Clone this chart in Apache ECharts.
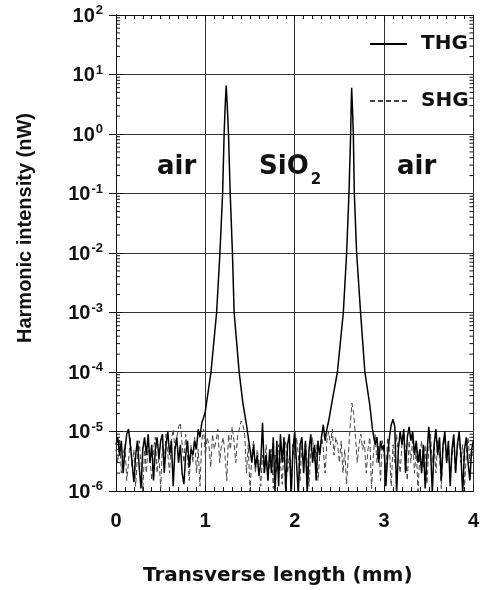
<!DOCTYPE html>
<html>
<head>
<meta charset="utf-8">
<script src="https://cdn.jsdelivr.net/npm/echarts@6/dist/echarts.min.js"></script>
<style>html,body{margin:0;padding:0;background:#fff;}#c{width:482px;height:590px;}</style>
</head>
<body>
<div id="c"></div>
<script>
// X tick labels (mm) and Y decades (nW)
const xTicks = [0, 1, 2, 3, 4];
const yDecades = [1e-6, 1e-5, 1e-4, 1e-3, 1e-2, 1e-1, 1, 10, 100];

// THG intensity (nW) vs transverse position (mm)
const thgData = [
  [0.00,6e-6],[0.02,8e-6],[0.04,4e-6],[0.06,7e-6],[0.08,2e-6],[0.10,5e-6],[0.12,9e-6],[0.14,1.1e-5],[0.16,6e-6],[0.18,3e-6],
  [0.20,1.4e-6],[0.22,4e-6],[0.24,7e-6],[0.26,2.5e-6],[0.28,1.1e-6],[0.30,5e-6],[0.32,8e-6],[0.34,4e-6],[0.36,9e-6],[0.38,3e-6],
  [0.40,6e-6],[0.42,1.5e-6],[0.44,5e-6],[0.46,8e-6],[0.48,3.5e-6],[0.50,7e-6],[0.52,9e-6],[0.54,2e-6],[0.56,6e-6],[0.58,1e-5],
  [0.60,4e-6],[0.62,7e-6],[0.64,1.2e-6],[0.66,5e-6],[0.68,8e-6],[0.70,3e-6],[0.72,6e-6],[0.74,2e-6],[0.76,1.3e-6],[0.78,4e-6],
  [0.80,7e-6],[0.82,2.5e-6],[0.84,5e-6],[0.86,4e-6],[0.88,7e-6],[0.90,5e-6],[0.92,1.1e-5],[0.94,8e-6],[0.96,1.4e-5],[0.98,1.7e-5],
  [1.00,2.2e-5],[1.063,1e-4],[1.126,1e-3],[1.163,1e-2],[1.193,0.1],[1.21,1],[1.222,3],[1.233,6.5],[1.245,3],[1.259,1],
  [1.278,0.1],[1.303,0.01],[1.322,1e-3],[1.378,1e-4],[1.42,3e-5],[1.46,1.3e-5],[1.48,8e-6],
  [1.50,5e-6],[1.52,3e-6],[1.54,6e-6],[1.56,2.5e-6],[1.58,4e-6],[1.60,1.8e-6],[1.62,3e-6],[1.64,1.4e-5],[1.66,2e-6],[1.68,4e-6],
  [1.70,1.5e-6],[1.72,5e-6],[1.74,2e-6],[1.76,8e-6],[1.78,0.9e-6],[1.80,7e-6],[1.82,1.2e-6],[1.84,9e-6],[1.86,3e-6],[1.88,8e-6],
  [1.90,0.9e-6],[1.92,6e-6],[1.94,9e-6],[1.96,0.8e-6],[1.98,5e-6],[2.00,1e-5],[2.02,3e-6],[2.04,0.9e-6],[2.06,6e-6],[2.08,8e-6],
  [2.10,2e-6],[2.12,7e-6],[2.14,0.9e-6],[2.16,5e-6],[2.18,9e-6],[2.20,3e-6],[2.22,6e-6],[2.24,1.5e-6],[2.26,7e-6],[2.28,4e-6],
  [2.30,8e-6],[2.32,1.3e-5],[2.34,7e-6],[2.36,1.1e-5],[2.38,1.5e-5],[2.415,3e-5],[2.478,1e-4],[2.544,1e-3],[2.581,1e-2],[2.607,0.1],
  [2.626,1],[2.632,3],[2.637,6],[2.645,3],[2.656,1],[2.667,0.1],[2.693,0.01],[2.737,1e-3],[2.785,1e-4],[2.84,2.8e-5],[2.87,1.1e-5],
  [2.90,6e-6],[2.92,8e-6],[2.94,3e-6],[2.96,7e-6],[2.98,5e-6],[3.00,6e-6],[3.02,1.2e-6],[3.04,4e-6],[3.06,8e-6],[3.08,1.3e-5],
  [3.10,1.6e-5],[3.12,1.2e-5],[3.14,0.9e-6],[3.16,5e-6],[3.18,1e-5],[3.20,6e-6],[3.22,1.1e-5],[3.24,2e-6],[3.26,8e-6],[3.28,1.2e-5],
  [3.30,7e-6],[3.32,1e-5],[3.34,4e-6],[3.36,7e-6],[3.38,3e-6],[3.40,5e-6],[3.42,2e-6],[3.44,6e-6],[3.46,1.1e-6],[3.48,4e-6],
  [3.50,1.2e-5],[3.52,5e-6],[3.54,0.9e-6],[3.56,6e-6],[3.58,1.1e-5],[3.60,4e-6],[3.62,8e-6],[3.64,1.5e-6],[3.66,6e-6],[3.68,1e-5],
  [3.70,3e-6],[3.72,7e-6],[3.74,1.2e-6],[3.76,5e-6],[3.78,9e-6],[3.80,2e-6],[3.82,6e-6],[3.84,1e-5],[3.86,4e-6],[3.88,0.9e-6],
  [3.90,5e-6],[3.92,8e-6],[3.94,3e-6],[3.96,1.5e-6],[3.98,5e-6],[4.00,7e-6]
];

// SHG intensity (nW) vs transverse position (mm)
const shgData = [
  [0.00,5e-6],[0.02,3e-6],[0.04,7e-6],[0.06,2e-6],[0.08,4e-6],[0.10,6e-6],[0.12,1.5e-6],[0.14,3e-6],[0.16,8e-6],[0.18,2.5e-6],
  [0.20,5e-6],[0.22,1.2e-6],[0.24,4e-6],[0.26,7e-6],[0.28,3e-6],[0.30,1e-6],[0.32,5e-6],[0.34,2e-6],[0.36,6e-6],[0.38,3.5e-6],
  [0.40,1.5e-6],[0.42,5e-6],[0.44,8e-6],[0.46,2e-6],[0.48,4e-6],[0.50,1.1e-6],[0.52,6e-6],[0.54,3e-6],[0.56,9e-6],[0.58,4e-6],
  [0.60,2e-6],[0.62,7e-6],[0.64,1.1e-5],[0.66,5e-6],[0.68,8e-6],[0.70,1.2e-5],[0.72,1.4e-5],[0.74,6e-6],[0.76,3e-6],[0.78,9e-6],
  [0.80,4e-6],[0.82,1.5e-6],[0.84,6e-6],[0.86,3e-6],[0.88,8e-6],[0.90,2e-6],[0.92,5e-6],[0.94,1.2e-6],[0.96,7e-6],[0.98,1.1e-5],
  [1.00,4e-6],[1.02,8e-6],[1.04,6e-6],[1.06,2.5e-6],[1.08,9e-6],[1.10,5e-6],[1.12,7e-6],[1.14,1.1e-5],[1.16,3e-6],[1.18,6e-6],
  [1.20,8e-6],[1.22,4e-6],[1.24,1.5e-6],[1.26,9e-6],[1.28,5e-6],[1.30,1.2e-5],[1.32,7e-6],[1.34,3e-6],[1.36,8e-6],[1.38,1.1e-5],
  [1.40,1.5e-5],[1.42,1.3e-5],[1.44,9e-6],[1.46,2e-6],[1.48,6e-6],[1.50,1e-6],[1.52,4e-6],[1.54,7e-6],[1.56,2e-6],[1.58,5e-6],
  [1.60,3e-6],[1.62,1.2e-6],[1.64,4e-6],[1.66,2e-6],[1.68,6e-6],[1.70,1.5e-6],[1.72,3e-6],[1.74,5e-6],[1.76,1.1e-6],[1.78,4e-6],
  [1.80,2e-6],[1.82,6e-6],[1.84,3e-6],[1.86,1.3e-6],[1.88,5e-6],[1.90,7e-6],[1.92,2e-6],[1.94,4e-6],[1.96,1e-6],[1.98,6e-6],
  [2.00,3e-6],[2.02,8e-6],[2.04,4e-6],[2.06,1.5e-6],[2.08,6e-6],[2.10,2.5e-6],[2.12,7e-6],[2.14,3e-6],[2.16,1.2e-6],[2.18,5e-6],
  [2.20,8e-6],[2.22,3e-6],[2.24,6e-6],[2.26,1.5e-6],[2.28,4e-6],[2.30,9e-6],[2.32,5e-6],[2.34,2e-6],[2.36,7e-6],[2.38,1e-5],
  [2.40,6e-6],[2.42,1.1e-5],[2.44,4e-6],[2.46,8e-6],[2.48,6e-6],[2.50,3e-6],[2.52,7e-6],[2.54,2e-6],[2.56,5e-6],[2.58,1.3e-6],
  [2.60,4e-6],[2.62,1.2e-5],[2.64,3e-5],[2.66,2e-5],[2.68,8e-6],[2.70,3e-6],[2.72,6e-6],[2.74,9e-6],[2.76,5e-6],[2.78,7e-6],
  [2.80,2e-6],[2.82,5e-6],[2.84,8e-6],[2.86,1.1e-6],[2.88,4e-6],[2.90,9e-6],[2.92,3e-6],[2.94,6e-6],[2.96,1.5e-6],[2.98,7e-6],
  [3.00,4e-6],[3.02,2e-6],[3.04,8e-6],[3.06,5e-6],[3.08,1.2e-6],[3.10,6e-6],[3.12,3e-6],[3.14,9e-6],[3.16,4e-6],[3.18,2e-6],
  [3.20,6e-6],[3.22,1.1e-5],[3.24,4e-6],[3.26,1.5e-6],[3.28,7e-6],[3.30,3e-6],[3.32,8e-6],[3.34,2e-6],[3.36,5e-6],[3.38,1e-6],
  [3.40,4e-6],[3.42,7e-6],[3.44,2.5e-6],[3.46,6e-6],[3.48,1.3e-6],[3.50,5e-6],[3.52,9e-6],[3.54,3e-6],[3.56,6e-6],[3.58,2e-6],
  [3.60,7e-6],[3.62,4e-6],[3.64,1.1e-6],[3.66,5e-6],[3.68,8e-6],[3.70,3e-6],[3.72,6e-6],[3.74,1.5e-6],[3.76,4e-6],[3.78,7e-6],
  [3.80,2e-6],[3.82,5e-6],[3.84,9e-6],[3.86,3e-6],[3.88,6e-6],[3.90,1.2e-6],[3.92,4e-6],[3.94,8e-6],[3.96,3e-6],[3.98,5e-6],
  [4.00,4e-6]
];

// Region annotations
const regionLabels = ['air', 'SiO', 'air'];

// Log minor tick positions (axis decoration)
const minorY = [];
for (let n = -6; n <= 1; n++) for (let k = 2; k <= 9; k++) minorY.push([0, k * Math.pow(10, n)]);

const chart = echarts.init(document.getElementById('c'), null, {renderer: 'canvas'});
const GRID = {left: 116, right: 6, top: 15, bottom: 99};
const LAB = 'Liberation Sans';
const DJ = 'DejaVu Sans';

const option = {
  animation: false,
  backgroundColor: '#fff',
  grid: GRID,
  legend: {
    orient: 'vertical', left: 369, top: 34, padding: 0,
    itemWidth: 37, itemHeight: 20, itemGap: 37,
    data: ['THG', 'SHG'],
    itemStyle: {opacity: 0},
    textStyle: {fontFamily: DJ, fontWeight: 'bold', fontSize: 20, color: '#111', padding: [0, 0, 0, 9]}
  },
  xAxis: [{
    type: 'value', min: xTicks[0], max: xTicks[xTicks.length - 1], interval: 1,
    axisLine: {lineStyle: {color: '#111', width: 1}},
    axisTick: {show: true, inside: true, length: 6, lineStyle: {color: '#111'}},
    minorTick: {show: true, splitNumber: 10, length: 4, lineStyle: {color: '#111'}},
    axisLabel: {fontFamily: LAB, fontWeight: 'bold', fontSize: 20, color: '#111', margin: 20},
    splitLine: {show: true, lineStyle: {color: '#333', width: 1}}
  }, {
    type: 'value', position: 'top', min: xTicks[0], max: xTicks[xTicks.length - 1], interval: 1,
    axisLine: {show: true, lineStyle: {color: '#111', width: 1}},
    axisTick: {show: true, inside: true, length: 6, lineStyle: {color: '#111'}},
    minorTick: {show: true, splitNumber: 10, length: 4, lineStyle: {color: '#111'}},
    axisLabel: {show: false}, splitLine: {show: false}
  }],
  yAxis: [{
    type: 'log', logBase: 10, min: yDecades[0], max: yDecades[yDecades.length - 1], interval: 1,
    axisLine: {show: true, lineStyle: {color: '#111', width: 1}},
    axisTick: {show: true, inside: true, length: 7, lineStyle: {color: '#111'}},
    axisLabel: {
      margin: 13,
      formatter: function (v) { return '{b|10}{s|' + Math.round(Math.log10(v)) + '}'; },
      rich: {
        b: {fontFamily: LAB, fontWeight: 'bold', fontSize: 20, color: '#111', lineHeight: 22, verticalAlign: 'bottom'},
        s: {fontFamily: LAB, fontWeight: 'bold', fontSize: 13, color: '#111', lineHeight: 22, verticalAlign: 'top', padding: [0, 0, 0, 1]}
      }
    },
    splitLine: {show: true, lineStyle: {color: '#333', width: 1}}
  }, {
    type: 'log', logBase: 10, position: 'right', min: yDecades[0], max: yDecades[yDecades.length - 1], interval: 1,
    axisLine: {show: true, lineStyle: {color: '#111', width: 1}},
    axisTick: {show: true, inside: true, length: 7, lineStyle: {color: '#111'}},
    axisLabel: {show: false}, splitLine: {show: false}
  }],
  graphic: [
    {type: 'text', left: 157, top: 154, style: {text: regionLabels[0], font: 'bold 26px "DejaVu Sans"', fill: '#111'}},
    {type: 'text', left: 259, top: 154, style: {
      text: '{m|' + regionLabels[1] + '}{sub|2}',
      rich: {m: {font: 'bold 26px "DejaVu Sans"', fill: '#111', lineHeight: 30, verticalAlign: 'bottom'},
             sub: {font: 'bold 15px "DejaVu Sans"', fill: '#111', lineHeight: 30, verticalAlign: 'bottom', padding: [0, 0, -8, 2]}}
    }},
    {type: 'text', left: 397, top: 154, style: {text: regionLabels[2], font: 'bold 26px "DejaVu Sans"', fill: '#111'}},
    {type: 'text', x: 25, y: 228, rotation: Math.PI / 2, style: {text: 'Harmonic intensity (nW)', font: 'bold 20px "Liberation Sans"', fill: '#111', align: 'center', verticalAlign: 'middle'}},
    {type: 'text', left: 143, top: 566, style: {text: 'Transverse length (mm)', font: 'bold 20px "DejaVu Sans"', fill: '#111'}}
  ],
  series: [
    {
      name: 'SHG', type: 'line', data: shgData, symbol: 'none', xAxisIndex: 0, yAxisIndex: 0,
      lineStyle: {color: '#444', width: 1, type: [5, 3]}, itemStyle: {color: '#444'}, z: 3
    },
    {
      name: 'THG', type: 'line', data: thgData, symbol: 'none', xAxisIndex: 0, yAxisIndex: 0,
      lineStyle: {color: '#000', width: 1.5}, itemStyle: {color: '#000'}, z: 4
    },
    {
      type: 'custom', data: minorY, xAxisIndex: 0, yAxisIndex: 0, silent: true, clip: false, z: 5,
      renderItem: function (params, api) {
        const v = api.value(1);
        const pL = api.coord([xTicks[0], v]);
        const pR = api.coord([xTicks[xTicks.length - 1], v]);
        const st = {stroke: '#111', lineWidth: 1};
        return {type: 'group', children: [
          {type: 'line', shape: {x1: pL[0], y1: pL[1], x2: pL[0] + 4, y2: pL[1]}, style: st},
          {type: 'line', shape: {x1: pR[0] - 4, y1: pR[1], x2: pR[0], y2: pR[1]}, style: st}
        ]};
      }
    }
  ]
};
chart.setOption(option);
</script>
</body>
</html>
